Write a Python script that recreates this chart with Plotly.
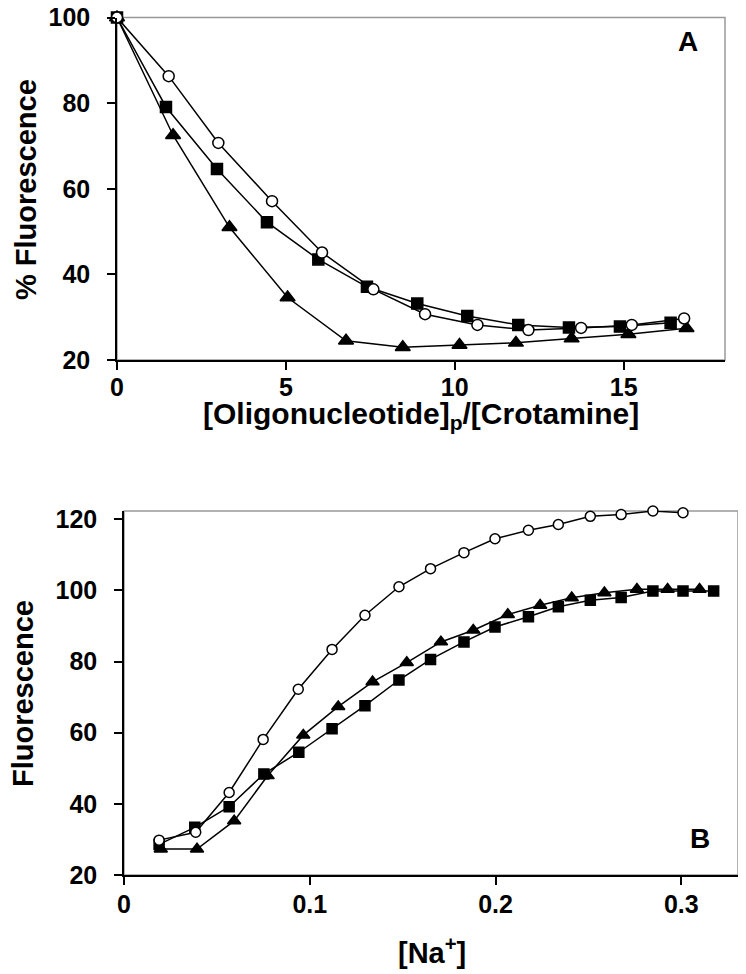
import plotly.graph_objects as go

# The page body has an 8px margin, so the figure is drawn 8px in from the
# window corner; layout coordinates below are given in window pixels.
OFF = 8
W, H = 746 - OFF, 974 - OFF

# ---- Panel A data ----
a_circ_x = [0, 1.53, 3.0, 4.59, 6.07, 7.59, 9.12, 10.67, 12.18, 13.74, 15.24, 16.79]
a_circ_y = [100, 86.3, 70.7, 57.1, 45.1, 36.5, 30.7, 28.2, 27.0, 27.5, 28.2, 29.7]
a_sq_x = [0, 1.45, 2.96, 4.44, 5.96, 7.40, 8.89, 10.37, 11.88, 13.38, 14.89, 16.39]
a_sq_y = [100, 79.1, 64.6, 52.2, 43.5, 37.1, 33.2, 30.3, 28.2, 27.6, 27.8, 28.7]
a_tri_x = [0, 1.66, 3.33, 5.05, 6.78, 8.46, 10.14, 11.81, 13.46, 15.14, 16.86]
a_tri_y = [100, 72.5, 51.0, 34.6, 24.5, 23.0, 23.5, 24.0, 25.0, 26.0, 27.4]

# ---- Panel B data ----
b_circ_x = [0.0189, 0.0386, 0.0566, 0.0749, 0.0938, 0.112, 0.1297, 0.148, 0.165, 0.183,
            0.1997, 0.2177, 0.2338, 0.251, 0.2676, 0.2847, 0.3009]
b_circ_y = [29.8, 32.0, 43.2, 58.1, 72.2, 83.4, 93.0, 101.0, 106.1, 110.6,
            114.5, 116.9, 118.5, 120.8, 121.3, 122.3, 121.8]
b_sq_x = [0.0189, 0.0381, 0.0566, 0.0753, 0.0941, 0.112, 0.1297, 0.148, 0.165, 0.183,
          0.1997, 0.2177, 0.2338, 0.251, 0.2676, 0.2847, 0.3009, 0.3174]
b_sq_y = [28.6, 33.4, 39.2, 48.4, 54.5, 61.1, 67.6, 74.8, 80.6, 85.5,
          89.7, 92.6, 95.4, 97.2, 98.0, 99.8, 99.8, 99.8]
b_tri_x = [0.0198, 0.0393, 0.0593, 0.0773, 0.0965, 0.1153, 0.1338, 0.1522, 0.1706, 0.188,
           0.2066, 0.224, 0.241, 0.2586, 0.2761, 0.2926, 0.3098]
b_tri_y = [27.3, 27.3, 35.2, 47.9, 59.3, 67.3, 74.3, 79.7, 85.5, 88.8,
           93.2, 95.8, 97.9, 99.3, 100.3, 100.3, 100.3]

a_xticks = [0, 5, 10, 15]
a_yticks = [20, 40, 60, 80, 100]
b_xticks = [0, 0.1, 0.2, 0.3]
b_xticklabels = ["0", "0.1", "0.2", "0.3"]
b_yticks = [20, 40, 60, 80, 100, 120]

FONT = "Liberation Sans, Arial, sans-serif"

fig = go.Figure()

def add(x, y, sym, size, fill, xa, ya):
    fig.add_trace(go.Scatter(
        x=x, y=y, mode="lines+markers", xaxis=xa, yaxis=ya,
        line=dict(color="black", width=1.5),
        marker=dict(symbol=sym, size=size, color=fill,
                    line=dict(color="black", width=1.5)),
        cliponaxis=False, showlegend=False, hoverinfo="skip"))

add(a_tri_x, a_tri_y, "triangle-up", 13, "black", "x", "y")
add(a_sq_x, a_sq_y, "square", 11, "black", "x", "y")
add(a_circ_x, a_circ_y, "circle", 11, "white", "x", "y")

add(b_tri_x, b_tri_y, "triangle-up", 11.5, "black", "x2", "y2")
add(b_sq_x, b_sq_y, "square", 10, "black", "x2", "y2")
add(b_circ_x, b_circ_y, "circle", 10, "white", "x2", "y2")

def px_x(p):
    return (p - OFF) / W

def px_y(p):
    return 1 - (p - OFF) / H

A_L, A_R, A_T, A_B = 117, 725, 17.5, 360
B_L, B_R, B_T, B_B = 124, 738, 511, 875

tickfont = dict(family=FONT, size=25, color="black", weight="bold")
axcommon = dict(showgrid=False, zeroline=False, showline=True, linecolor="black",
                linewidth=1.5, ticks="outside", ticklen=8, tickwidth=1.5,
                tickcolor="black", tickfont=tickfont, automargin=False,
                ticklabeloverflow="allow")

fig.update_layout(
    template="none",
    width=W, height=H, margin=dict(l=0, r=0, t=0, b=0, pad=0, autoexpand=False),
    paper_bgcolor="white", plot_bgcolor="white",
    xaxis=dict(domain=[px_x(A_L), px_x(A_R)], range=[0, 18], tickvals=a_xticks,
               anchor="y", ticklabelstandoff=-4, **axcommon),
    yaxis=dict(domain=[px_y(A_B), px_y(A_T)], range=[20, 100], tickvals=a_yticks,
               anchor="x", ticklabelstandoff=12, **axcommon),
    xaxis2=dict(domain=[px_x(B_L), px_x(B_R)], range=[0, 0.3305], tickvals=b_xticks,
                ticktext=b_xticklabels, anchor="y2", ticklabelstandoff=-2, **axcommon),
    yaxis2=dict(domain=[px_y(B_B), px_y(B_T)], range=[20, 122.3], tickvals=b_yticks,
                anchor="x2", ticklabelstandoff=12, **axcommon),
)

# grey frames (top/right borders)
for (l, r, t, b) in [(A_L, A_R, A_T, A_B), (B_L, B_R, B_T, B_B)]:
    fig.add_shape(type="rect", xref="paper", yref="paper",
                  x0=px_x(l), x1=px_x(r), y0=px_y(b), y1=px_y(t),
                  line=dict(color="#999999", width=1.5), layer="below")

titlefont = dict(family=FONT, size=29, color="black", weight="bold")

def ann(text, x, y, angle=0, size=29):
    f = dict(titlefont)
    f["size"] = size
    fig.add_annotation(text=text, x=px_x(x), y=px_y(y), xref="paper", yref="paper",
                       showarrow=False, textangle=angle, font=f,
                       xanchor="center", yanchor="middle")

ann("% Fluorescence", 26, 190, -90)
ann("[Oligonucleotide]<sub>p</sub>/[Crotamine]", 421, 415, 0, 30)
ann("Fluorescence", 23, 694, -90)
ann("[Na<sup>+</sup>]", 432, 951)
ann("A", 688, 41, 0, 28)
ann("B", 700, 838, 0, 28)

fig.write_html("out.html")
